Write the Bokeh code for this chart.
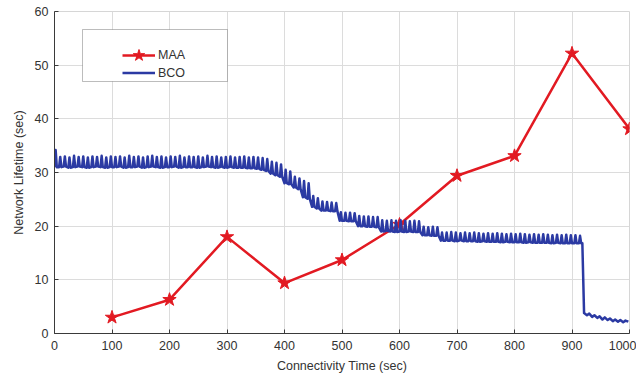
from bokeh.plotting import figure
from bokeh.models import Range1d, Legend, LegendItem, BoxAnnotation, FixedTicker
from bokeh.embed import file_html
from bokeh.resources import INLINE

# ---------------- data ----------------
maa_x = [100, 200, 300, 400, 500, 600, 700, 800, 900, 1000]
maa_y = [3.0, 6.3, 18.0, 9.4, 13.7, 20.3, 29.4, 33.1, 52.2, 38.1]

# BCO: one oscillation tooth every 8 s, from 0 to 912 s
bco_period = 8
bco_peaks = [
    34.2, 32.9, 33.0, 32.8, 33.1, 32.9, 33.0, 32.8, 33.0, 32.9,
    33.1, 32.8, 33.0, 32.9, 33.0, 32.8, 33.1, 32.9, 33.0, 32.8,
    33.0, 33.1, 32.9, 33.0, 32.8, 33.0, 32.9, 33.1, 32.8, 33.0,
    32.9, 33.0, 32.8, 33.1, 32.9, 33.0, 32.8, 32.9, 33.0, 32.8,
    32.9, 33.0, 32.8, 32.9, 32.8, 32.7, 32.5, 32.0, 31.8, 31.5,
    30.5, 30.2, 29.2, 28.9, 28.4, 28.0, 25.6, 25.2, 24.6, 24.5,
    24.4, 24.3, 22.6, 22.5, 22.5, 22.4, 21.9, 21.8, 21.8, 21.7,
    21.7, 21.1, 21.0, 21.1, 21.0, 21.1, 21.0, 20.9, 21.0, 20.9,
    19.9, 19.8, 19.9, 19.8, 18.8, 18.8, 18.9, 18.8, 18.7, 18.8,
    18.7, 18.8, 18.7, 18.6, 18.7, 18.6, 18.7, 18.6, 18.5, 18.6,
    18.5, 18.6, 18.5, 18.4, 18.5, 18.4, 18.5, 18.4, 18.3, 18.4,
    18.3, 18.4, 18.3, 18.3, 18.2,
]
bco_bases = [
    31.0, 31.0, 31.1, 30.9, 31.0, 31.1, 31.0, 30.9, 31.0, 31.1,
    31.0, 30.9, 31.0, 31.0, 31.1, 30.9, 31.0, 31.0, 31.1, 30.9,
    31.0, 31.1, 31.0, 30.9, 31.0, 31.0, 31.1, 30.9, 31.0, 31.0,
    31.0, 30.9, 31.0, 31.1, 31.0, 30.9, 31.0, 30.9, 31.0, 30.9,
    30.9, 30.9, 30.8, 30.8, 30.7, 30.5, 30.3, 29.8, 29.5, 29.2,
    28.0, 27.8, 27.2, 26.9, 25.4, 25.1, 23.6, 23.3, 22.9, 22.9,
    22.8, 22.8, 21.0, 21.0, 20.9, 20.9, 20.0, 20.0, 19.9, 19.9,
    19.8, 19.0, 19.1, 19.0, 18.9, 19.0, 18.9, 19.0, 18.9, 18.9,
    18.3, 18.3, 18.2, 18.2, 17.3, 17.3, 17.3, 17.2, 17.3, 17.2,
    17.2, 17.2, 17.1, 17.2, 17.1, 17.1, 17.1, 17.0, 17.1, 17.0,
    17.0, 17.0, 16.9, 17.0, 16.9, 16.9, 16.9, 16.9, 16.8, 16.9,
    16.8, 16.8, 16.8, 16.8, 16.8,
]
# after the collapse near 920 s
bco_tail_x = [918, 921, 926, 930, 935, 939, 944, 948, 953, 957,
              962, 966, 971, 975, 980, 984, 989, 993, 998]
bco_tail_y = [16.8, 3.8, 3.4, 3.7, 3.1, 3.4, 2.9, 3.2, 2.6, 3.0,
              2.5, 2.8, 2.3, 2.6, 2.2, 2.5, 2.1, 2.4, 2.2]

x_ticks = [0, 100, 200, 300, 400, 500, 600, 700, 800, 900, 1000]
y_ticks = [0, 10, 20, 30, 40, 50, 60]

# build BCO path from the per-tooth levels
bco_x, bco_y = [], []
for i, (pk, bs) in enumerate(zip(bco_peaks, bco_bases)):
    t0 = i * bco_period
    bco_x += [t0, t0 + 2, t0 + 4]
    bco_y += [bs, pk, bs]
bco_x += bco_tail_x
bco_y += bco_tail_y

# ---------------- figure ----------------
FONT = "Liberation Sans"
TXT = "#333333"
RED = "#e21a22"
BLUE = "#2b3aa3"

p = figure(width=636, height=376, output_backend="svg", toolbar_location=None,
           x_range=Range1d(0, 1000), y_range=Range1d(0, 60),
           min_border_left=54, min_border_right=7, min_border_top=11,
           min_border_bottom=43)

p.outline_line_color = "#d6d6d6"
p.background_fill_color = "white"
p.border_fill_color = "white"

for ax in (p.xaxis[0], p.yaxis[0]):
    ax.axis_line_color = "#3a3a3a"
    ax.axis_line_width = 1
    ax.major_tick_line_color = "#3a3a3a"
    ax.major_tick_in = 4
    ax.major_tick_out = 0
    ax.minor_tick_line_color = None
    ax.major_label_text_font = FONT
    ax.major_label_text_font_size = "12.5px"
    ax.major_label_text_color = TXT
    ax.axis_label_text_font = FONT
    ax.axis_label_text_font_size = "12.5px"
    ax.axis_label_text_color = TXT
    ax.axis_label_text_font_style = "normal"

p.xaxis.ticker = FixedTicker(ticks=x_ticks)
p.yaxis.ticker = FixedTicker(ticks=y_ticks)
p.xaxis.axis_label = "Connectivity Time (sec)"
p.yaxis.axis_label = "Network Lifetime (sec)"
p.xaxis.major_label_standoff = 7
p.xaxis.axis_label_standoff = 6
p.yaxis.major_label_standoff = 6
p.yaxis.axis_label_standoff = 6

p.xgrid.grid_line_color = "#dcdcdc"
p.ygrid.grid_line_color = "#dcdcdc"
p.xgrid.grid_line_width = 1
p.ygrid.grid_line_width = 1

maa_line = p.line(maa_x, maa_y, line_color=RED, line_width=2.5)
maa_pts = p.scatter(maa_x, maa_y, marker="star", size=14,
                    fill_color=RED, line_color=RED, line_width=1)
bco_line = p.line(bco_x, bco_y, line_color=BLUE, line_width=2.5,
                  line_join="round")

# legend frame
box = BoxAnnotation(left=28, right=173, bottom=252, top=304,
                    left_units="screen", right_units="screen",
                    bottom_units="screen", top_units="screen",
                    fill_color="white", fill_alpha=1.0,
                    line_color="#222222", line_width=1, level="overlay")
p.add_layout(box)

common = dict(padding=0, margin=0, spacing=0, glyph_width=33,
              label_height=17, label_standoff=3, border_line_color=None,
              background_fill_alpha=0.0, label_text_font=FONT,
              label_text_font_size="12.5px", label_text_color=TXT)

legend_maa = Legend(items=[LegendItem(label="MAA",
                                      renderers=[maa_line, maa_pts])],
                    location=(68, 263), glyph_height=30, **common)
legend_bco = Legend(items=[LegendItem(label="BCO", renderers=[bco_line])],
                    location=(68, 252), glyph_height=17, **common)
p.add_layout(legend_maa, "center")
p.add_layout(legend_bco, "center")

open("out.html", "w").write(file_html(p, INLINE))
